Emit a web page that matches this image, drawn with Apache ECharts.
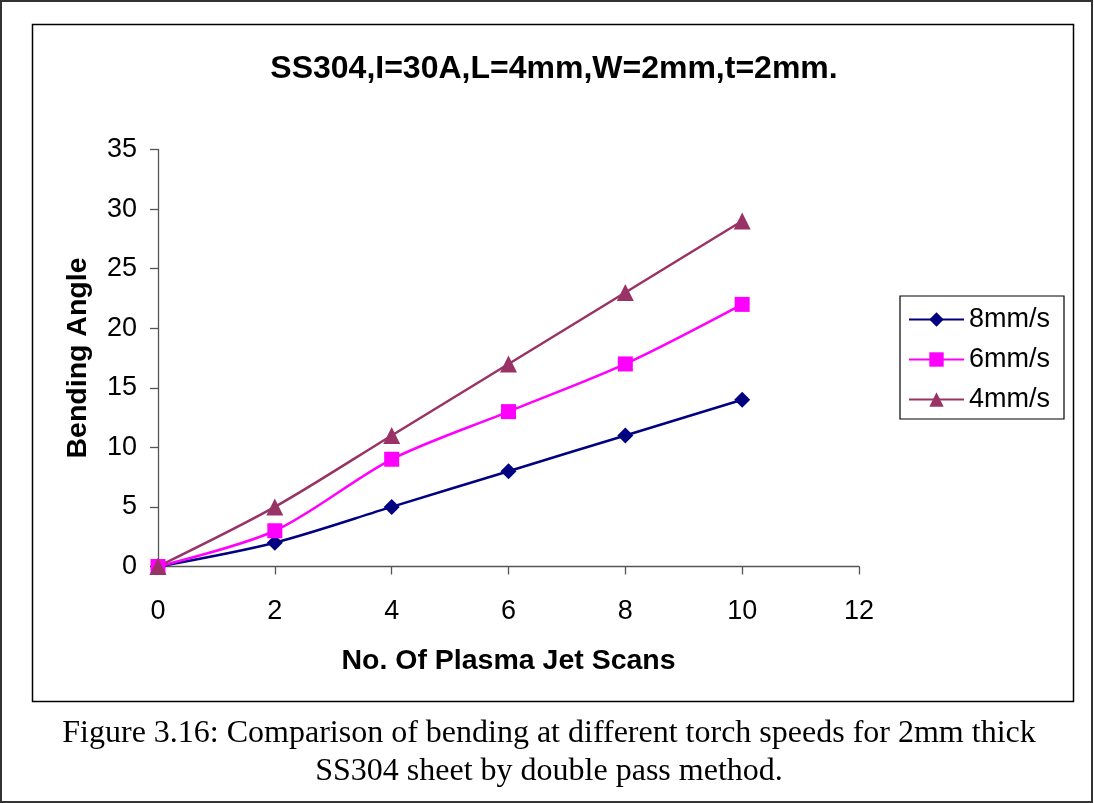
<!DOCTYPE html>
<html>
<head>
<meta charset="utf-8">
<script src="https://cdn.jsdelivr.net/npm/echarts@6/dist/echarts.min.js"></script>
<style>
html,body{margin:0;padding:0;background:#fff;}
#chart{width:1094px;height:803px;}
</style>
</head>
<body>
<div id="chart"></div>
<script>
const xValues = [0, 2, 4, 6, 8, 10];
const s8 = [0, 2, 5, 8, 11, 14];
const s6 = [0, 3, 9, 13, 17, 22];
const s4 = [0, 5, 11, 17, 23, 29];
const seriesNames = ['8mm/s', '6mm/s', '4mm/s'];
const titleText = 'SS304,I=30A,L=4mm,W=2mm,t=2mm.';
const xTitle = 'No. Of Plasma Jet Scans';
const yTitle = 'Bending Angle';
const captionLines = ['Figure 3.16: Comparison of bending at different torch speeds for 2mm thick', 'SS304 sheet by double pass method.'];

function pairs(ys){ return xValues.map((x,i)=>[x, ys[i]]); }

const chart = echarts.init(document.getElementById('chart'), null, {renderer:'canvas'});
const font = 'Arial, "Liberation Sans", sans-serif';
const serif = '"Liberation Serif","Times New Roman",serif';
chart.setOption({
  animation:false,
  backgroundColor:'#fff',
  title:{
    text:titleText, left:549, textAlign:'center', top:48,
    textStyle:{fontFamily:font, fontWeight:'bold', fontSize:32, color:'#000'}
  },
  grid:{left:158, top:149.5, right:235, bottom:236.5, containLabel:false},
  xAxis:{
    type:'value', min:0, max:12, interval:2,
    name:xTitle, nameLocation:'middle', nameGap:80,
    nameTextStyle:{fontFamily:font, fontWeight:'bold', fontSize:28.5, color:'#000'},
    axisLine:{show:true, onZero:false, lineStyle:{color:'#555', width:1.3}},
    axisTick:{show:true, length:8, lineStyle:{color:'#555', width:1.3}},
    axisLabel:{fontFamily:font, fontSize:27, color:'#000', margin:32},
    splitLine:{show:false}
  },
  yAxis:{
    type:'value', min:0, max:35, interval:5,
    name:yTitle, nameLocation:'middle', nameGap:65, nameRotate:90,
    nameTextStyle:{fontFamily:font, fontWeight:'bold', fontSize:28.5, color:'#000'},
    axisLine:{show:true, lineStyle:{color:'#555', width:1.3}},
    axisTick:{show:true, length:8, lineStyle:{color:'#555', width:1.3}},
    axisLabel:{fontFamily:font, fontSize:27, color:'#000', margin:21},
    splitLine:{show:false}
  },
  legend:{
    orient:'vertical', left:900, top:296,
    padding:[10,14,6,8], itemGap:13, itemWidth:55, itemHeight:18,
    borderColor:'#000', borderWidth:1.2, backgroundColor:'#fff',
    textStyle:{fontFamily:font, fontSize:27, color:'#000'},
    data:seriesNames
  },
  series:[
    {name:seriesNames[0], type:'line', data:pairs(s8), smooth:0.3,
     symbol:'diamond', symbolSize:16, color:'#000080',
     lineStyle:{width:2.5, color:'#000080'}, itemStyle:{color:'#000080'}},
    {name:seriesNames[1], type:'line', data:pairs(s6), smooth:0.3,
     symbol:'rect', symbolSize:15, color:'#FF00FF',
     lineStyle:{width:2.5, color:'#FF00FF'}, itemStyle:{color:'#FF00FF'}},
    {name:seriesNames[2], type:'line', data:pairs(s4), smooth:0.3,
     symbol:'triangle', symbolSize:17, color:'#993366',
     lineStyle:{width:2.5, color:'#993366'}, itemStyle:{color:'#993366'}}
  ],
  graphic:[
    {type:'rect', shape:{x:1,y:1,width:1091,height:801}, style:{fill:'none', stroke:'#333', lineWidth:2}, silent:true, z:-1},
    {type:'rect', shape:{x:32.5,y:24.5,width:1041,height:677}, style:{fill:'none', stroke:'#000', lineWidth:1.5}, silent:true, z:-1},
    {type:'text', x:549, y:734, style:{text:captionLines[0], fontFamily:serif, fontSize:32, fill:'#000', align:'center', verticalAlign:'middle'}},
    {type:'text', x:549, y:772, style:{text:captionLines[1], fontFamily:serif, fontSize:32, fill:'#000', align:'center', verticalAlign:'middle'}}
  ]
});
</script>
</body>
</html>
